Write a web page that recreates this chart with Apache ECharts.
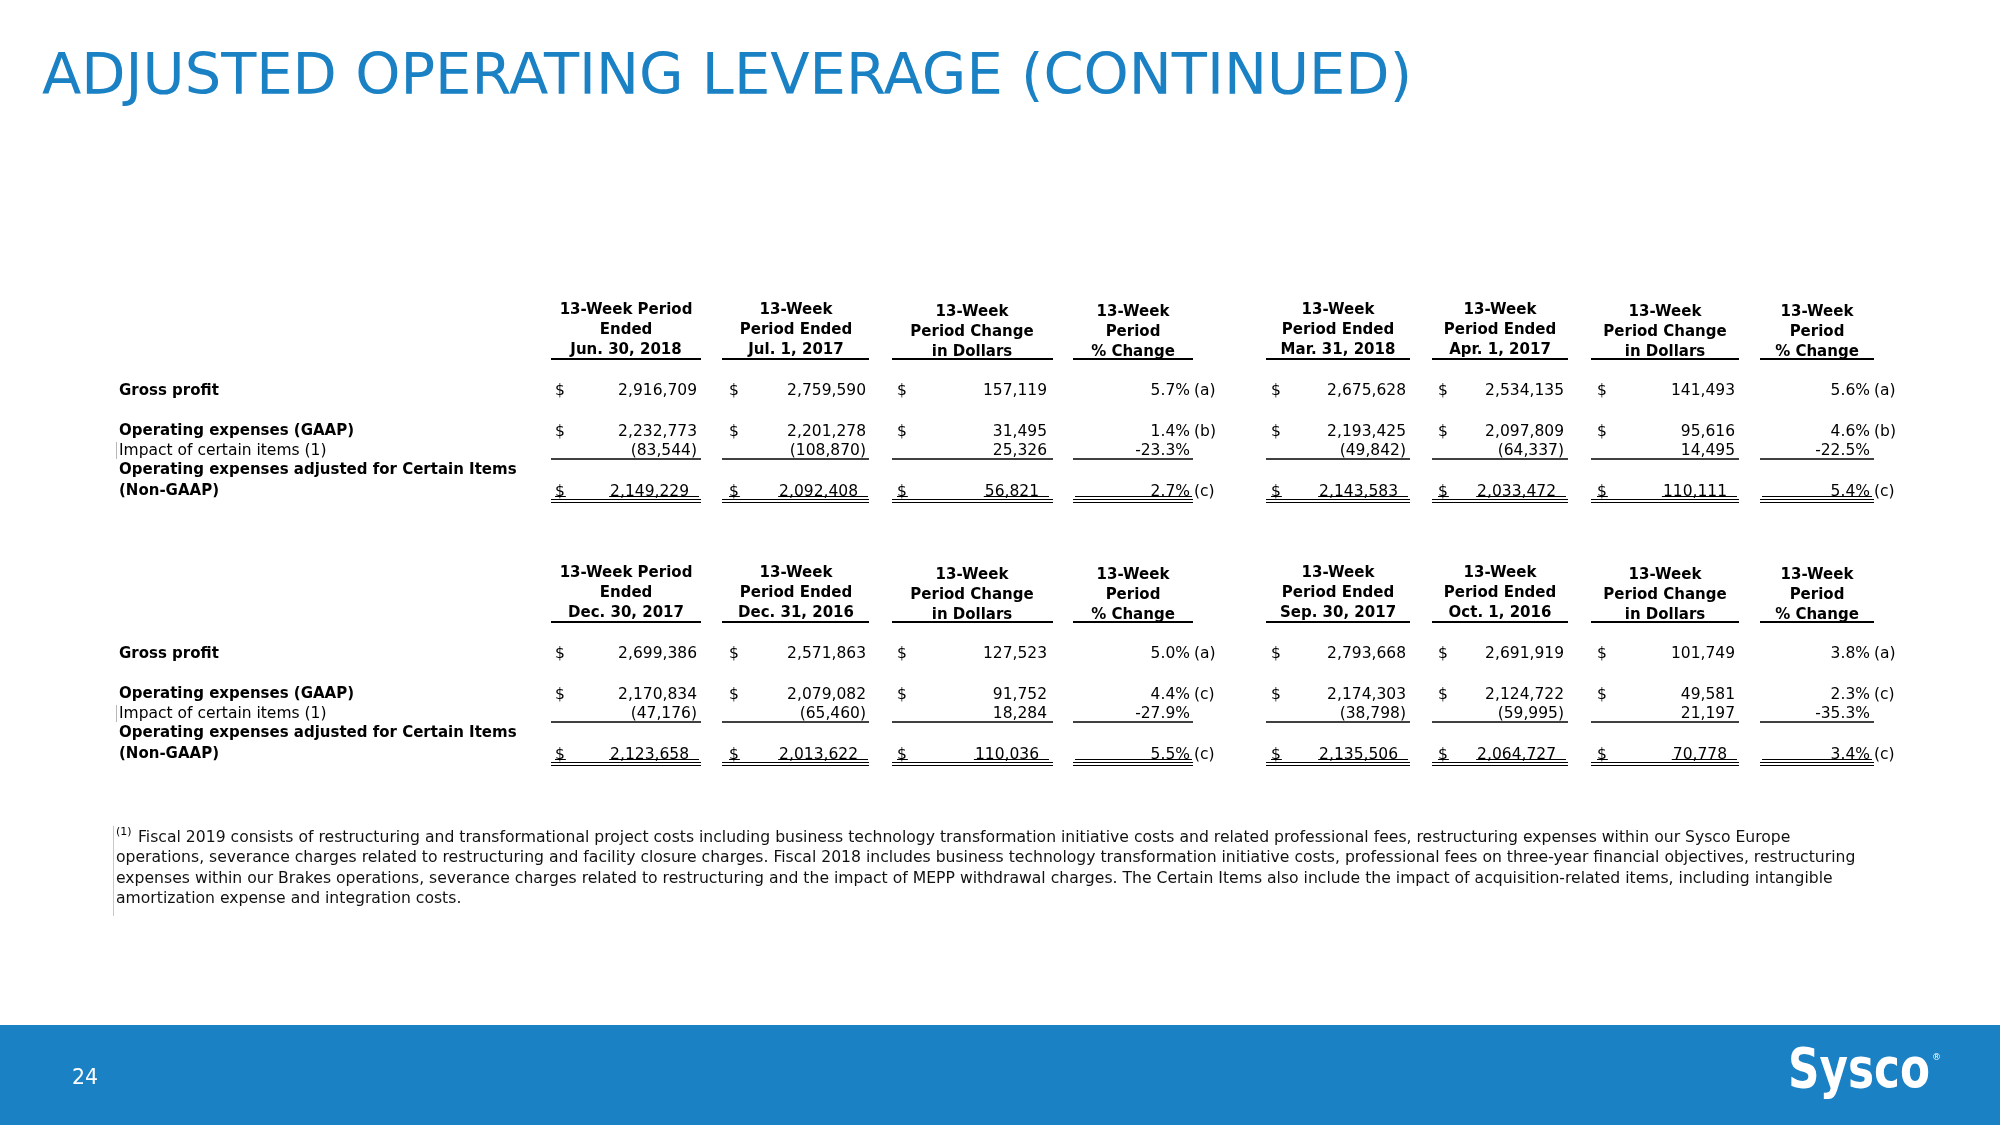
<!DOCTYPE html>
<html>
<head>
<meta charset="utf-8">
<script src="https://cdn.jsdelivr.net/npm/echarts@6/dist/echarts.min.js"></script>
<style>
html,body{margin:0;padding:0;background:#fff;}
#chart{width:2000px;height:1125px;}
</style>
</head>
<body>
<div id="chart"></div>
<script>
// ---------------- DATA ----------------
const title = 'ADJUSTED OPERATING LEVERAGE (CONTINUED)';
const pageNumber = '24';
const rowLabels = ['Gross profit', 'Operating expenses (GAAP)', 'Impact of certain items (1)',
  'Operating expenses adjusted for Certain Items', '(Non-GAAP)'];

const headersTop = [
  ['13-Week Period', 'Ended', 'Jun. 30, 2018'],
  ['13-Week', 'Period Ended', 'Jul. 1, 2017'],
  ['13-Week', 'Period Change', 'in Dollars'],
  ['13-Week', 'Period', '% Change'],
  ['13-Week', 'Period Ended', 'Mar. 31, 2018'],
  ['13-Week', 'Period Ended', 'Apr. 1, 2017'],
  ['13-Week', 'Period Change', 'in Dollars'],
  ['13-Week', 'Period', '% Change']
];
const headersBottom = [
  ['13-Week Period', 'Ended', 'Dec. 30, 2017'],
  ['13-Week', 'Period Ended', 'Dec. 31, 2016'],
  ['13-Week', 'Period Change', 'in Dollars'],
  ['13-Week', 'Period', '% Change'],
  ['13-Week', 'Period Ended', 'Sep. 30, 2017'],
  ['13-Week', 'Period Ended', 'Oct. 1, 2016'],
  ['13-Week', 'Period Change', 'in Dollars'],
  ['13-Week', 'Period', '% Change']
];

// columns: prior/current $, change $, change %, (second pair)
const grossTop    = [2916709, 2759590, 157119, 5.7, 2675628, 2534135, 141493, 5.6];
const opexTop     = [2232773, 2201278, 31495, 1.4, 2193425, 2097809, 95616, 4.6];
const impactTop   = [-83544, -108870, 25326, -23.3, -49842, -64337, 14495, -22.5];
const adjustedTop = [2149229, 2092408, 56821, 2.7, 2143583, 2033472, 110111, 5.4];
const grossNotesTop = ['(a)', '(a)'];
const opexNotesTop = ['(b)', '(b)'];
const adjustedNotesTop = ['(c)', '(c)'];

const grossBottom    = [2699386, 2571863, 127523, 5.0, 2793668, 2691919, 101749, 3.8];
const opexBottom     = [2170834, 2079082, 91752, 4.4, 2174303, 2124722, 49581, 2.3];
const impactBottom   = [-47176, -65460, 18284, -27.9, -38798, -59995, 21197, -35.3];
const adjustedBottom = [2123658, 2013622, 110036, 5.5, 2135506, 2064727, 70778, 3.4];
const grossNotesBottom = ['(a)', '(a)'];
const opexNotesBottom = ['(c)', '(c)'];
const adjustedNotesBottom = ['(c)', '(c)'];

const footnoteLines = [
  'Fiscal 2019 consists of restructuring and transformational project costs including business technology transformation initiative costs and related professional fees, restructuring expenses within our Sysco Europe',
  'operations, severance charges related to restructuring and facility closure charges. Fiscal 2018 includes business technology transformation initiative costs, professional fees on three-year financial objectives, restructuring',
  'expenses within our Brakes operations, severance charges related to restructuring and the impact of MEPP withdrawal charges. The Certain Items also include the impact of acquisition-related items, including intangible',
  'amortization expense and integration costs.'
];

// ---------------- LAYOUT ----------------
const BLUE = '#1a81c4';
const FF = '"DejaVu Sans", Verdana, sans-serif';
const F_REG = '15.5px ' + FF;
const F_BOLD = 'bold 15px ' + FF;
const F_HEAD = 'bold 15px ' + FF;
const COLS = [
  {l: 551, r: 701, dol: 555, vr: 697, hc: 626, hdy: 0},
  {l: 722, r: 869, dol: 729, vr: 866, hc: 796, hdy: 0},
  {l: 892, r: 1053, dol: 897, vr: 1047, hc: 972, hdy: 2},
  {l: 1073, r: 1193, vr: 1190, hc: 1133, hdy: 2, pct: true},
  {l: 1266, r: 1410, dol: 1271, vr: 1406, hc: 1338, hdy: 0},
  {l: 1432, r: 1568, dol: 1438, vr: 1564, hc: 1500, hdy: 0},
  {l: 1591, r: 1739, dol: 1597, vr: 1735, hc: 1665, hdy: 2},
  {l: 1760, r: 1874, vr: 1870, hc: 1817, hdy: 2, pct: true}
];
const LABEL_X = 119;

const mctx = document.createElement('canvas').getContext('2d');
function tw(s, font) { mctx.font = font; return mctx.measureText(s).width; }

function fmtMoney(v) {
  const s = Math.abs(v).toLocaleString('en-US');
  return v < 0 ? '(' + s + ')' : s;
}
function fmtPct(v) { return v.toFixed(1) + '%'; }

const G = [];
function txt(x, y, s, font, align, fill, extra) {
  G.push(Object.assign({
    type: 'text', x: x, y: y, silent: true,
    style: {text: s, font: font, fill: fill || '#000', align: align || 'left', verticalAlign: 'middle',
      textAlign: align || 'left', textVerticalAlign: 'middle'}
  }, extra || {}));
}
function hline(x1, x2, y, w, color) {
  G.push({type: 'line', silent: true, shape: {x1: x1, y1: y, x2: x2, y2: y},
    style: {stroke: color || '#000', lineWidth: w}});
}
function vline(x, y1, y2, w, color) {
  G.push({type: 'line', silent: true, shape: {x1: x, y1: y1, x2: x, y2: y2},
    style: {stroke: color, lineWidth: w}});
}

function drawBlock(dy, headers, gross, opex, impact, adjusted, gNotes, oNotes, aNotes) {
  const ty = dy + 1;
  // headers
  COLS.forEach((c, i) => {
    headers[i].forEach((h, k) => txt(c.hc, 309 + ty + c.hdy + k * 20, h, F_HEAD, 'center'));
    hline(c.l, c.r, 359 + dy, 2);
  });
  // labels
  txt(LABEL_X, 390 + ty, rowLabels[0], F_BOLD);
  txt(LABEL_X, 430.5 + ty, rowLabels[1], F_BOLD);
  txt(LABEL_X, 450 + ty, rowLabels[2], F_REG);
  txt(LABEL_X, 469 + ty, rowLabels[3], F_BOLD);
  txt(LABEL_X, 490 + ty, rowLabels[4], F_BOLD);
  vline(116.5, 442 + dy, 459 + dy, 1, '#b8b8b8');

  const rows = [
    {vals: gross, y: 390, notes: gNotes, dollar: true},
    {vals: opex, y: 430.5, notes: oNotes, dollar: true},
    {vals: impact, y: 450, notes: null, dollar: false},
    {vals: adjusted, y: 490.5, notes: aNotes, dollar: true, total: true}
  ];
  rows.forEach(r => {
    let ni = 0;
    COLS.forEach((c, i) => {
      const v = r.vals[i];
      const y = r.y + ty;
      if (c.pct) {
        const s = fmtPct(v);
        txt(c.vr, y, s, F_REG, 'right');
        if (r.notes) { txt(c.vr + 4, y, r.notes[ni], F_REG, 'left'); ni++; }
        if (r.total) hline(c.l + 2, c.vr + 2, 496.5 + dy, 1);
      } else {
        const s = fmtMoney(v);
        const right = r.total ? c.vr - 8 : c.vr;
        txt(right, y, s, F_REG, 'right');
        if (r.dollar) txt(c.dol, y, '$', F_REG, 'left');
        if (r.total) {
          hline(c.dol, c.dol + tw('$', F_REG) + 1, 496.5 + dy, 1);
          hline(right - tw(s, F_REG) - 1, right + 10, 496.5 + dy, 1);
        }
      }
    });
  });
  // rules
  COLS.forEach(c => {
    hline(c.l, c.r, 459 + dy, 1.5);
    hline(c.l, c.r, 499.5 + dy, 1.2);
    hline(c.l, c.r, 502.5 + dy, 1.2);
  });
}

// title
txt(42, 79, title, '57.5px ' + FF, 'left', BLUE);

drawBlock(0, headersTop, grossTop, opexTop, impactTop, adjustedTop, grossNotesTop, opexNotesTop, adjustedNotesTop);
drawBlock(263, headersBottom, grossBottom, opexBottom, impactBottom, adjustedBottom, grossNotesBottom, opexNotesBottom, adjustedNotesBottom);

// footnote
const fnFs = 14 * 1740 / tw(footnoteLines[1], '14px ' + FF);
const F_FN = fnFs.toFixed(2) + 'px ' + FF;
vline(113.5, 826, 916, 1, '#c8c8c8');
txt(116, 832, '(1)', '11px ' + FF, 'left');
footnoteLines.forEach((l, i) => txt(i === 0 ? 138 : 116, 838 + i * 20.4, l, F_FN, 'left', '#111'));

// footer bar
G.push({type: 'rect', silent: true, shape: {x: 0, y: 1025, width: 2000, height: 100}, style: {fill: BLUE}, z: -1});
txt(72, 1079, pageNumber, '20.5px ' + FF, 'left', '#fff');
// logo
const LOGO_F = 'bold 56px "DejaVu Sans Condensed", sans-serif';
const logoScale = 142 / tw('Sysco', LOGO_F);
txt(1788, 1072, 'Sysco', LOGO_F, 'left', '#fff', {scaleX: logoScale});
txt(1932, 1058, '®', '9px ' + FF, 'left', '#fff');

const chart = echarts.init(document.getElementById('chart'), null, {renderer: 'canvas'});
chart.setOption({
  backgroundColor: '#fff',
  animation: false,
  graphic: {elements: G}
});
</script>
</body>
</html>
